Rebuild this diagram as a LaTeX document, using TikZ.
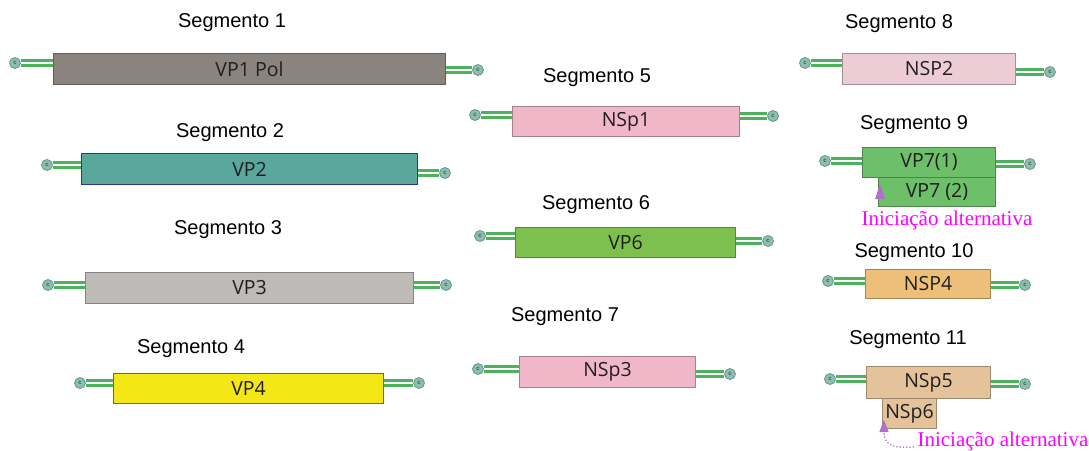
\documentclass[tikz,border=0pt]{standalone}
\usepackage{fontspec}
\setmainfont{Liberation Sans}
\newfontfamily\boxfont{Open Sans}
\newfontfamily\notefont{Liberation Serif}
\usetikzlibrary{arrows.meta}

\definecolor{segA}{HTML}{8B837E}
\definecolor{segB}{HTML}{5AA89B}
\definecolor{segC}{HTML}{BEBAB7}
\definecolor{segD}{HTML}{F3E716}
\definecolor{pinkA}{HTML}{F0B7C9}
\definecolor{pinkB}{HTML}{ECCDD6}
\definecolor{greenA}{HTML}{7DC04E}
\definecolor{greenB}{HTML}{6DBF6A}
\definecolor{orangeA}{HTML}{EDBF78}
\definecolor{tanA}{HTML}{E4C39B}
\definecolor{wire}{HTML}{4DB25C}
\definecolor{endfill}{HTML}{8FBDAE}
\definecolor{endline}{HTML}{5E9A88}
\definecolor{notecol}{HTML}{FF00FF}
\definecolor{tipcol}{HTML}{B070C8}

\tikzset{
  segbox/.style={draw=#1!70!black, line width=1pt, inner sep=0pt, anchor=north west,
    font=\boxfont\fontsize{19.5}{19.5}\selectfont, text=black!88},
  seglabel/.style={font=\fontsize{20}{20}\selectfont},
  endcap/.style={circle, fill=endfill, draw=endline, line width=0.8pt, minimum size=11pt,
    inner sep=0pt, font=\fontsize{6}{6}\selectfont\bfseries, text=endline!60!black},
  wireline/.style={draw=wire, line width=3.6pt, double=white, double distance=1.2pt},
  note/.style={font=\notefont\fontsize{21}{21}\selectfont, text=notecol},
}

\begin{document}
\begin{tikzpicture}[x=1pt, y=-1pt]
\useasboundingbox (0,0) rectangle (1089,450);

% --- Segment 1
\node[seglabel] (l1) at (232,23) {Segmento 1};
\node[segbox=segA, fill=segA, minimum width=392pt, minimum height=31pt] (b1) at (53,53) {VP1 Pol};
\node[endcap] (e1a) at (15,63) {c};
\node[endcap] (e1b) at (478,70) {c};

% --- Segment 2
\node[seglabel] (l2) at (230,133) {Segmento 2};
\node[segbox=segB, draw=blue!45!black!80, fill=segB, minimum width=336pt, minimum height=31pt] (b2) at (81,153) {VP2};
\node[endcap] (e2a) at (47,165) {c};
\node[endcap] (e2b) at (445,173) {c};

% --- Segment 3
\node[seglabel] (l3) at (228,230) {Segmento 3};
\node[segbox=segC, fill=segC, minimum width=328pt, minimum height=31pt] (b3) at (85,272) {VP3};
\node[endcap] (e3a) at (48,285) {c};
\node[endcap] (e3b) at (446,285) {c};

% --- Segment 4
\node[seglabel] (l4) at (191,349) {Segmento 4};
\node[segbox=segD, draw=black!60, fill=segD, minimum width=270pt, minimum height=30pt] (b4) at (113,373) {VP4};
\node[endcap] (e4a) at (80,383) {c};
\node[endcap] (e4b) at (419,383) {c};

% --- Segment 5
\node[seglabel] (l5) at (597,78) {Segmento 5};
\node[segbox=pinkA, fill=pinkA, minimum width=227pt, minimum height=30pt] (b5) at (512,106) {NSp1};
\node[endcap] (e5a) at (475,115) {c};
\node[endcap] (e5b) at (773,116) {c};

% --- Segment 6
\node[seglabel] (l6) at (596,205) {Segmento 6};
\node[segbox=greenA, fill=greenA, minimum width=220pt, minimum height=30pt] (b6) at (515,227) {VP6};
\node[endcap] (e6a) at (480,236) {c};
\node[endcap] (e6b) at (768,241) {c};

% --- Segment 7
\node[seglabel] (l7) at (565,317) {Segmento 7};
\node[segbox=pinkA, fill=pinkA, minimum width=176pt, minimum height=31pt] (b7) at (519,356) {NSp3};
\node[endcap] (e7a) at (478,369) {c};
\node[endcap] (e7b) at (730,374) {c};

% --- Segment 8
\node[seglabel] (l8) at (899,24) {Segmento 8};
\node[segbox=pinkB, fill=pinkB, minimum width=173pt, minimum height=31pt] (b8) at (842,53) {NSP2};
\node[endcap] (e8a) at (805,63) {c};
\node[endcap] (e8b) at (1050,72) {c};

% --- Segment 9
\node[seglabel] (l9) at (914,125) {Segmento 9};
\node[segbox=greenB, fill=greenB, minimum width=117pt, minimum height=29pt] (b9b) at (878,177) {VP7 (2)};
\node[segbox=greenB, fill=greenB, minimum width=133pt, minimum height=30pt] (b9a) at (862,147) {VP7(1)};
\node[endcap] (e9a) at (825,161) {c};
\node[endcap] (e9b) at (1030,164) {c};
\node[note, anchor=west] (n9) at (858,220) {Iniciação alternativa};
\coordinate (t9) at (880,184);
\fill[tipcol] (t9) -- ++(-5,15) -- ++(10,0) -- cycle;

% --- Segment 10
\node[seglabel] (l10) at (914,253) {Segmento 10};
\node[segbox=orangeA, fill=orangeA, minimum width=125pt, minimum height=29pt] (b10) at (865,269) {NSP4};
\node[endcap] (e10a) at (828,281) {c};
\node[endcap] (e10b) at (1025,285) {c};

% --- Segment 11
\node[seglabel] (l11) at (908,340) {Segmento 11};
\node[segbox=tanA, fill=tanA, minimum width=124pt, minimum height=32pt] (b11a) at (866,366) {NSp5};
\node[segbox=tanA, fill=tanA, minimum width=54pt, minimum height=30pt] (b11b) at (882,398) {NSp6};
\node[endcap] (e11a) at (830,379) {c};
\node[endcap] (e11b) at (1025,384) {c};
\node[note, anchor=west] (n11) at (914,441) {Iniciação alternativa};
\coordinate (t11) at (884,420);
\draw[tipcol, line width=1.3pt, dotted, -{Triangle[length=12pt,width=9pt]}]
  (n11.west |- 0,447) .. controls (888,449) and (884,442) .. (t11);

% --- Wires between end caps and segment boxes
\foreach \e/\b in {e1a/b1, e2a/b2, e3a/b3, e4a/b4, e5a/b5, e6a/b6, e7a/b7,
                   e8a/b8, e9a/b9a, e10a/b10, e11a/b11a} {
  \draw[wireline] (\e.east) -- (\e.east -| \b.west);
}
\foreach \e/\b in {e1b/b1, e2b/b2, e3b/b3, e4b/b4, e5b/b5, e6b/b6, e7b/b7,
                   e8b/b8, e9b/b9a, e10b/b10, e11b/b11a} {
  \draw[wireline] (\e.west) -- (\e.west -| \b.east);
}
\end{tikzpicture}
\end{document}
